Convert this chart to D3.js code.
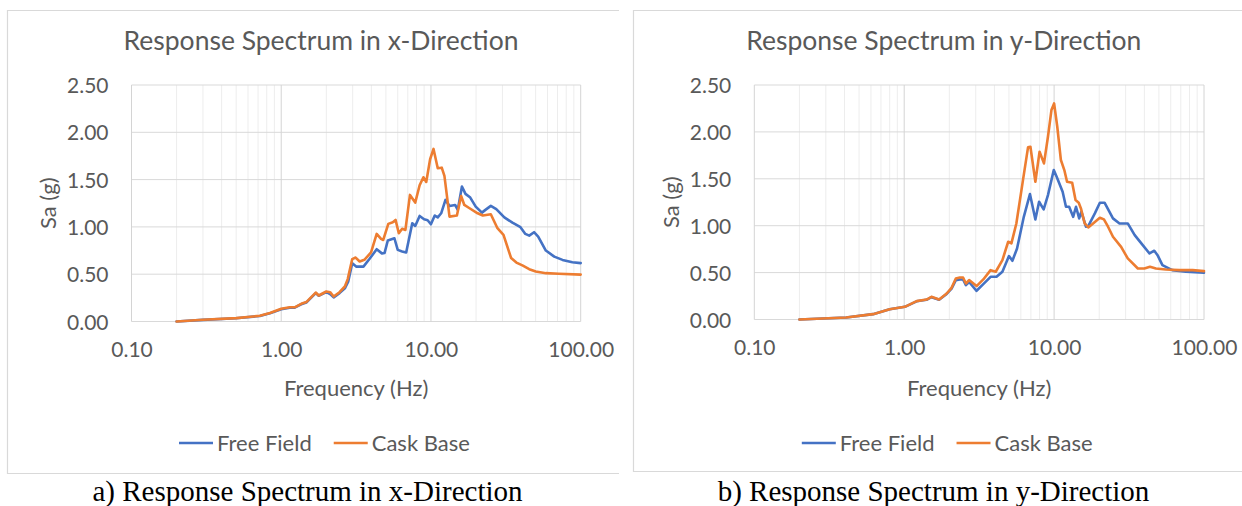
<!DOCTYPE html>
<html><head><meta charset="utf-8">
<script src="https://cdn.jsdelivr.net/npm/d3@7"></script>
<style>html,body{margin:0;padding:0;background:#fff;}svg{display:block;}</style>
</head><body>
<svg id="c" width="1242" height="506"></svg>
<script>
// ---------- DATA ----------
const xTickValues = [0.1, 1, 10, 100];
const xTickLabels = ["0.10", "1.00", "10.00", "100.00"];
const yTickValues = [0, 0.5, 1, 1.5, 2, 2.5];
const yTickLabels = ["0.00", "0.50", "1.00", "1.50", "2.00", "2.50"];
const seriesNames = ["Free Field", "Cask Base"];
const chartTitles = ["Response Spectrum in x-Direction", "Response Spectrum in y-Direction"];
const captions = ["a) Response Spectrum in x-Direction", "b) Response Spectrum in y-Direction"];
const xAxisTitle = "Frequency (Hz)";
const yAxisTitle = "Sa (g)";

// x-direction, Free Field  [frequency Hz, Sa g]
const freeFieldX = [
 [0.2,0],[0.3,0.017],[0.5,0.035],[0.72,0.058],[0.84,0.086],[1.0,0.13],[1.14,0.145],[1.23,0.147],
 [1.36,0.182],[1.47,0.2],[1.70,0.3],[1.78,0.272],[2.0,0.31],[2.12,0.29],[2.24,0.255],[2.45,0.3],
 [2.66,0.35],[2.8,0.42],[2.98,0.617],[3.18,0.58],[3.54,0.58],[3.88,0.66],[4.34,0.764],[4.7,0.72],
 [4.9,0.725],[5.15,0.856],[5.7,0.88],[6.0,0.757],[6.42,0.74],[6.83,0.729],[7.5,1.039],[7.85,1.01],
 [8.4,1.116],[9.0,1.08],[9.5,1.07],[9.99,1.028],[10.6,1.12],[11.1,1.10],[11.7,1.144],[12.5,1.285],
 [13.3,1.22],[14.5,1.232],[15.1,1.18],[16.1,1.426],[17.0,1.349],[18.3,1.31],[19.9,1.215],[21.9,1.151],
 [23.1,1.18],[25.1,1.222],[27.3,1.187],[30.9,1.10],[35.0,1.045],[39.6,0.997],[42.7,0.926],[45.3,0.908],
 [48.8,0.944],[52.0,0.898],[58.5,0.75],[66.6,0.686],[75.6,0.651],[88,0.627],[100,0.617]
];
// x-direction, Cask Base
const caskBaseX = [
 [0.2,0],[0.3,0.018],[0.5,0.036],[0.72,0.06],[0.84,0.089],[1.0,0.134],[1.14,0.15],[1.23,0.15],
 [1.36,0.187],[1.47,0.205],[1.70,0.306],[1.78,0.275],[2.0,0.317],[2.12,0.31],[2.24,0.264],[2.45,0.31],
 [2.66,0.37],[2.78,0.448],[2.98,0.66],[3.14,0.676],[3.34,0.634],[3.59,0.652],[3.98,0.73],[4.34,0.926],
 [4.64,0.873],[4.8,0.862],[5.19,1.032],[5.56,1.05],[5.8,1.074],[6.1,0.933],[6.42,0.98],[6.75,0.968],
 [7.24,1.338],[7.85,1.257],[8.4,1.44],[8.9,1.525],[9.3,1.475],[9.87,1.715],[10.4,1.824],[11.1,1.62],
 [11.8,1.626],[12.3,1.539],[13.3,1.109],[14.9,1.12],[15.9,1.327],[16.7,1.232],[18.1,1.197],[20.5,1.144],
 [22.2,1.12],[25.1,1.134],[27.8,0.986],[30.5,0.916],[34.3,0.67],[37.2,0.623],[41.1,0.59],[45.3,0.553],
 [50.1,0.528],[58.5,0.511],[71.5,0.504],[100,0.496]
];
// y-direction, Free Field
const freeFieldY = [
 [0.2,0],[0.41,0.021],[0.62,0.057],[0.8,0.11],[1.01,0.135],[1.21,0.194],[1.41,0.21],[1.52,0.238],
 [1.71,0.21],[1.92,0.272],[2.07,0.33],[2.21,0.42],[2.35,0.427],[2.47,0.427],[2.58,0.366],[2.71,0.4],
 [3.04,0.306],[3.37,0.377],[3.77,0.455],[4.13,0.455],[4.52,0.509],[5.0,0.676],[5.27,0.626],[5.66,0.757],
 [6.28,1.095],[6.9,1.337],[7.5,1.067],[7.94,1.255],[8.52,1.174],[9.1,1.326],[9.95,1.593],[10.4,1.522],
 [11.4,1.362],[12.0,1.202],[12.6,1.202],[13.4,1.095],[14.0,1.202],[14.7,1.078],[15.2,1.149],[16.3,0.989],
 [16.9,0.996],[18.7,1.131],[20.2,1.245],[21.7,1.245],[24.7,1.078],[27.3,1.024],[31.0,1.024],[34.5,0.90],
 [38.2,0.811],[43.3,0.704],[46.6,0.733],[49.0,0.686],[52.8,0.58],[61.4,0.526],[75.8,0.509],[100,0.498]
];
// y-direction, Cask Base
const caskBaseY = [
 [0.2,0],[0.41,0.021],[0.62,0.057],[0.8,0.11],[1.01,0.135],[1.21,0.196],[1.41,0.213],[1.52,0.242],
 [1.71,0.213],[1.92,0.277],[2.07,0.338],[2.21,0.437],[2.35,0.448],[2.47,0.448],[2.58,0.384],[2.71,0.42],
 [3.04,0.356],[3.37,0.427],[3.77,0.526],[4.08,0.509],[4.52,0.633],[4.94,0.829],[5.19,0.811],[5.6,1.024],
 [6.2,1.486],[6.7,1.835],[6.95,1.842],[7.5,1.469],[8.0,1.789],[8.56,1.664],[9.1,1.949],[9.6,2.233],
 [10.0,2.304],[10.5,2.055],[11.1,1.70],[11.7,1.593],[12.2,1.469],[13.2,1.458],[13.9,1.273],[14.6,1.245],
 [15.1,1.184],[16.0,1.024],[16.9,0.982],[18.2,1.024],[20.2,1.085],[21.5,1.067],[22.9,0.989],[24.7,0.882],
 [28.0,0.775],[31.0,0.651],[36.2,0.544],[40.0,0.544],[43.6,0.562],[47.8,0.544],[55.7,0.533],[68.4,0.526],
 [84,0.526],[100,0.516]
];

// ---------- LAYOUT ----------
const COLORS = ["#4472C4", "#ED7D31"];
const TXT = "#595959";
const FONT = "Lato, 'Open Sans', sans-serif";
const svg = d3.select("#c");

const panels = [
  {px: 7.5, pw: 611.5, py: 10.5, pb: 473.5, left: 131.5, right: 580.7, top: 85, bottom: 321.5, data: [freeFieldX, caskBaseX]},
  {px: 633.5, pw: 620, py: 10.5, pb: 471.5, left: 754.3, right: 1204, top: 85, bottom: 319.5, data: [freeFieldY, caskBaseY]}
];

panels.forEach((p, i) => {
  const g = svg.append("g");
  // panel border (cropped on the right)
  g.append("path")
    .attr("d", `M${p.px + p.pw},${p.py}H${p.px}V${p.pb}H${p.px + p.pw}`)
    .attr("fill", "none").attr("stroke", "#d9d9d9").attr("stroke-width", 1.2);

  const x = d3.scaleLog().domain([0.1, 100]).range([p.left, p.right]);
  const y = d3.scaleLinear().domain([0, 2.5]).range([p.bottom, p.top]);

  // minor vertical gridlines
  const minor = [];
  [0.1, 1, 10].forEach(d => { for (let k = 2; k <= 9; k++) minor.push(d * k); });
  g.selectAll(".minor").data(minor).join("line")
    .attr("x1", d => x(d)).attr("x2", d => x(d)).attr("y1", p.top).attr("y2", p.bottom)
    .attr("stroke", "#ededed").attr("stroke-width", 1);
  // horizontal gridlines
  g.selectAll(".hg").data(yTickValues).join("line")
    .attr("x1", p.left).attr("x2", p.right).attr("y1", d => y(d)).attr("y2", d => y(d))
    .attr("stroke", "#d9d9d9").attr("stroke-width", 1);
  // major vertical gridlines
  g.selectAll(".major").data(xTickValues).join("line")
    .attr("x1", d => x(d)).attr("x2", d => x(d)).attr("y1", p.top).attr("y2", p.bottom)
    .attr("stroke", "#d4d4d4").attr("stroke-width", 1);

  // axes labels via d3 axes
  const xa = g.append("g").attr("transform", `translate(0,${p.bottom + 32})`)
    .call(d3.axisBottom(x).tickValues(xTickValues).tickFormat((d, j) => xTickLabels[j]).tickSize(0));
  xa.select(".domain").remove();
  xa.selectAll("text").attr("fill", TXT).attr("font-family", FONT).attr("font-size", 21).attr("dy", "0");

  const ya = g.append("g").attr("transform", `translate(${p.left - 23},0)`)
    .call(d3.axisLeft(y).tickValues(yTickValues).tickFormat((d, j) => yTickLabels[j]).tickSize(0).tickPadding(0));
  ya.select(".domain").remove();
  ya.selectAll("text").attr("fill", TXT).attr("font-family", FONT).attr("font-size", 21).attr("dy", "0.36em");

  // series
  const line = d3.line().x(d => x(d[0])).y(d => y(d[1]));
  p.data.forEach((s, k) => {
    g.append("path").datum(s).attr("d", line).attr("fill", "none")
      .attr("stroke", COLORS[k]).attr("stroke-width", 2.6)
      .attr("stroke-linejoin", "round").attr("stroke-linecap", "round");
  });

  // titles
  const cx = (p.left + p.right) / 2;
  g.append("text").attr("x", p.left + 189.5).attr("y", 50).attr("text-anchor", "middle")
    .attr("fill", TXT).attr("font-family", FONT).attr("font-size", 26.5).text(chartTitles[i]);
  g.append("text").attr("x", cx).attr("y", 396).attr("text-anchor", "middle")
    .attr("fill", TXT).attr("font-family", FONT).attr("font-size", 22).text(xAxisTitle);
  g.append("text").attr("transform", `translate(${p.left - 83},${(p.top + p.bottom) / 2}) rotate(-90)`)
    .attr("text-anchor", "middle").attr("dy", "0.35em")
    .attr("fill", TXT).attr("font-family", FONT).attr("font-size", 22).text(yAxisTitle);

  // legend
  const lx = p.left + 47.5, ly = 443;
  const lg = g.append("g");
  let cur = lx;
  seriesNames.forEach((n, k) => {
    lg.append("line").attr("x1", cur).attr("x2", cur + 34).attr("y1", ly).attr("y2", ly)
      .attr("stroke", COLORS[k]).attr("stroke-width", 2.6);
    const t = lg.append("text").attr("x", cur + 38).attr("y", ly).attr("dy", "0.36em")
      .attr("fill", TXT).attr("font-family", FONT).attr("font-size", 22).text(n);
    cur = cur + 38 + t.node().getComputedTextLength() + 22;
  });

  // caption
  svg.append("text").attr("x", p.px + 300).attr("y", 501).attr("text-anchor", "middle")
    .attr("fill", "#000").attr("font-family", "'Liberation Serif', 'Times New Roman', serif")
    .attr("font-size", 29).text(captions[i]);
});
</script>
</body></html>
